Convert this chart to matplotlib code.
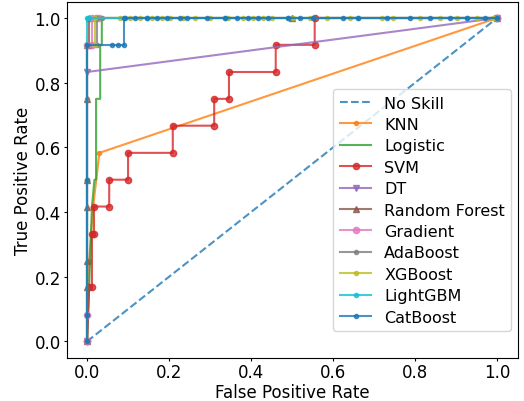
import matplotlib
matplotlib.use("Agg")
import matplotlib.pyplot as plt

# ROC points
NO_SKILL_FPR = [0, 1]
NO_SKILL_TPR = [0, 1]

KNN_FPR = [0, 0.005, 0.015, 0.03, 1.0]
KNN_TPR = [0, 0.25, 0.417, 0.583, 1.0]

LOG_FPR = [0, 0.005, 0.012, 0.018, 0.022, 0.022, 0.032, 0.032, 0.036, 0.036, 1.0]
LOG_TPR = [0, 0.167, 0.417, 0.5, 0.5, 0.75, 0.75, 0.917, 0.917, 1.0, 1.0]

SVM_FPR = [0, 0.005, 0.012, 0.012, 0.017, 0.017, 0.054, 0.054, 0.1, 0.1, 0.209, 0.209,
           0.31, 0.31, 0.346, 0.346, 0.46, 0.46, 0.555, 0.555, 1.0]
SVM_TPR = [0, 0.167, 0.167, 0.333, 0.333, 0.417, 0.417, 0.5, 0.5, 0.583, 0.583, 0.667,
           0.667, 0.75, 0.75, 0.833, 0.833, 0.917, 0.917, 1.0, 1.0]

DT_FPR = [0, 0, 1.0]
DT_TPR = [0, 0.833, 1.0]

RF_FPR = [0, 0, 0, 0, 0, 0, 0, 0.005, 0.005, 0.5, 1.0]
RF_TPR = [0, 0.167, 0.25, 0.417, 0.5, 0.75, 0.917, 0.917, 1.0, 1.0, 1.0]

GB_FPR = [0, 0, 0, 0.012, 0.012, 0.022, 0.029, 1.0]
GB_TPR = [0, 0.083, 0.917, 0.917, 1.0, 1.0, 1.0, 1.0]

ADA_FPR = [0, 0, 0, 0, 0.024, 0.024, 0.036, 0.5, 1.0]
ADA_TPR = [0, 0.5, 0.75, 0.917, 0.917, 1.0, 1.0, 1.0, 1.0]

XGB_FPR = [0, 0, 0, 0.02, 0.02, 0.08, 0.105, 0.129, 0.159, 0.183, 0.202, 0.234, 0.263,
           0.3, 0.344, 0.38, 0.405, 0.429, 0.451, 0.502, 0.544, 0.585, 0.641, 0.72,
           0.746, 0.812, 0.861, 0.902, 0.951, 0.99, 1.0]
XGB_TPR = [0, 0.5, 0.917, 0.917] + [1.0] * 27

LGBM_FPR = [0, 0, 0, 0.005, 0.146, 0.337, 0.49, 0.661, 0.927, 1.0]
LGBM_TPR = [0, 0.083, 1.0, 1.0, 1.0, 1.0, 1.0, 1.0, 1.0, 1.0]

CAT_FPR = [0, 0, 0, 0, 0.06, 0.075, 0.091, 0.091, 0.093, 0.117, 0.146, 0.171, 0.195,
           0.227, 0.244, 0.293, 0.337, 0.366, 0.393, 0.417, 0.441, 0.49, 0.52, 0.551,
           0.624, 0.661, 0.732, 0.787, 0.837, 0.885, 0.927, 0.971, 1.0]
CAT_TPR = [0, 0.083, 0.5, 0.917, 0.917, 0.917, 0.917] + [1.0] * 26

fig = plt.figure(figsize=(5.24, 4.02), dpi=100)
ax = fig.add_axes([0.127, 0.108, 0.861, 0.885])

ax.plot(NO_SKILL_FPR, NO_SKILL_TPR, linestyle="--", label="No Skill", alpha=0.8)
ax.plot(KNN_FPR, KNN_TPR, marker=".", label="KNN", alpha=0.8)
ax.plot(LOG_FPR, LOG_TPR, label="Logistic", alpha=0.8)
ax.plot(SVM_FPR, SVM_TPR, marker="o", markersize=4.5, label="SVM", alpha=0.8)
ax.plot(DT_FPR, DT_TPR, marker="v", markersize=4, label="DT", alpha=0.8)
ax.plot(RF_FPR, RF_TPR, marker="^", markersize=4, label="Random Forest", alpha=0.8)
ax.plot(GB_FPR, GB_TPR, marker="o", markersize=4.5, label="Gradient", alpha=0.8)
ax.plot(ADA_FPR, ADA_TPR, marker=".", label="AdaBoost", alpha=0.8)
ax.plot(XGB_FPR, XGB_TPR, marker=".", label="XGBoost", alpha=0.8)
ax.plot(LGBM_FPR, LGBM_TPR, marker=".", label="LightGBM", alpha=0.8)
ax.plot(CAT_FPR, CAT_TPR, marker=".", label="CatBoost", alpha=0.8)

ax.set_xlabel("False Positive Rate", fontsize=12, labelpad=1)
ax.set_ylabel("True Positive Rate", fontsize=12, labelpad=2)
ax.tick_params(labelsize=12, length=2.5, pad=1.5)
ax.legend(loc="lower right", bbox_to_anchor=(0.986, 0.075), borderaxespad=0,
          fontsize=11.5, labelspacing=0.4)

fig.savefig("out.png", dpi=100)
